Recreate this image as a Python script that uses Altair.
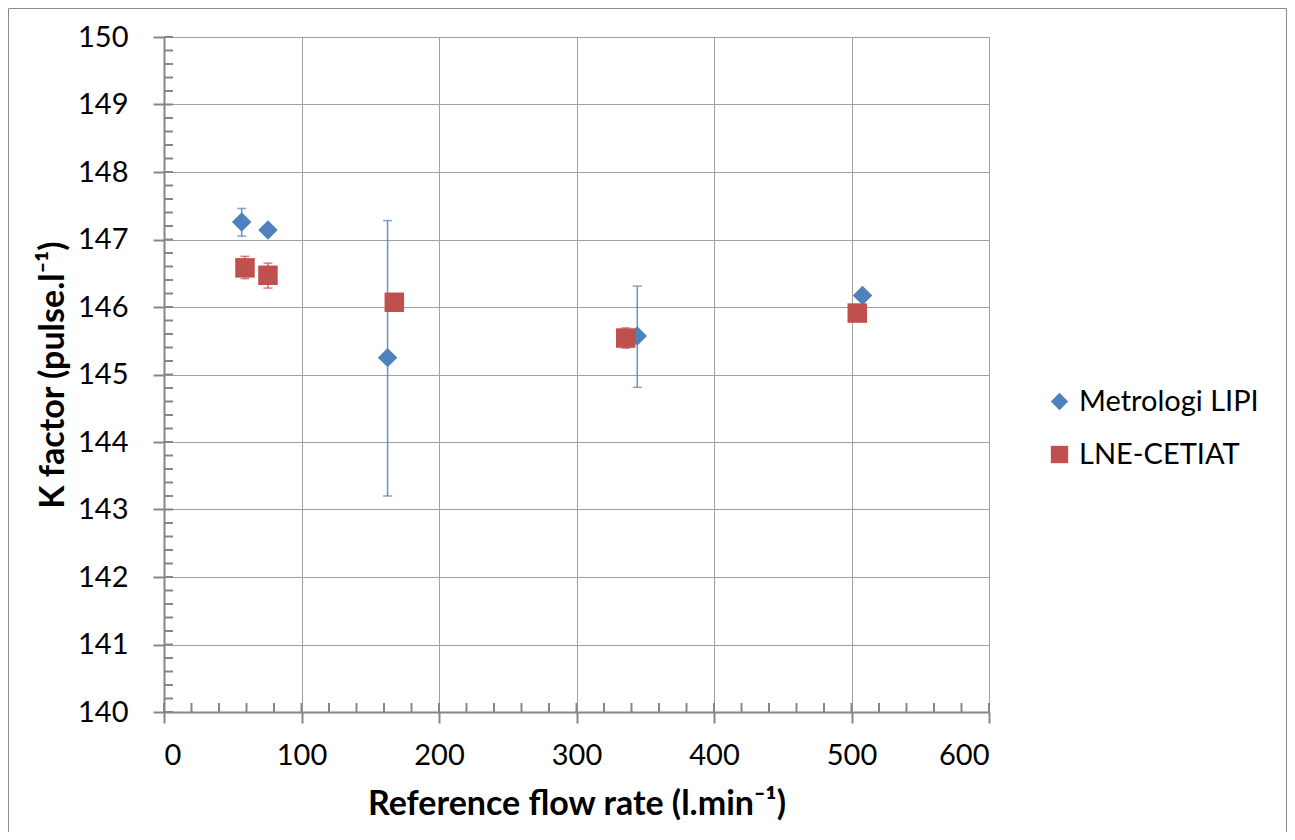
import altair as alt
import pandas as pd

# ---- data ----
series_names = ["Metrologi LIPI", "LNE-CETIAT"]
series_colors = ["#4F81BD", "#C0504D"]
series_shapes = ["diamond", "square"]

lipi_flow = [56.5, 75.6, 162.6, 344.2, 508.0]
lipi_k = [147.26, 147.14, 145.25, 145.57, 146.17]
lipi_lo = [147.05, 147.09, 143.20, 144.81, 146.12]
lipi_hi = [147.46, 147.19, 147.28, 146.31, 146.22]

lne_flow = [58.9, 75.6, 167.5, 335.8, 504.2]
lne_k = [146.58, 146.47, 146.07, 145.54, 145.91]
lne_lo = [146.42, 146.28, 145.97, 145.39, 145.81]
lne_hi = [146.75, 146.65, 146.17, 145.69, 146.01]

x_ticks = [0, 100, 200, 300, 400, 500, 600]
y_ticks = [140, 141, 142, 143, 144, 145, 146, 147, 148, 149, 150]

W, H = 825, 675
FONT = "Lato"
AXIS_GREY = "#868686"

rows = []
for n, fl, k, lo, hi in [(series_names[0], lipi_flow, lipi_k, lipi_lo, lipi_hi),
                         (series_names[1], lne_flow, lne_k, lne_lo, lne_hi)]:
    for a, b, c, d in zip(fl, k, lo, hi):
        rows.append({"series": n, "flow": a, "k": b, "lo": c, "hi": d})
df = pd.DataFrame(rows)

xs = alt.Scale(domain=[0, 600], nice=False, zero=False)
ys = alt.Scale(domain=[140, 150], nice=False, zero=False)

x_enc = alt.X("flow:Q", scale=xs, axis=alt.Axis(
    values=x_ticks, format="d", title="Reference flow rate (l.min⁻¹)", grid=True))
y_enc = alt.Y("k:Q", scale=ys, axis=alt.Axis(
    values=y_ticks, format="d", title="K factor (pulse.l⁻¹)", grid=True))

# inner (minor + inner half of major) ticks
ytick_df = pd.DataFrame({"v": [140 + i * 0.2 for i in range(51)]})
xtick_df = pd.DataFrame({"v": [i * 20 for i in range(31)]})

yticks_in = alt.Chart(ytick_df).mark_rule(color=AXIS_GREY, strokeWidth=2).encode(
    y=alt.Y("v:Q", scale=ys), x=alt.value(0), x2=alt.value(9))
xticks_in = alt.Chart(xtick_df).mark_rule(color=AXIS_GREY, strokeWidth=2).encode(
    x=alt.X("v:Q", scale=xs), y=alt.value(H - 9), y2=alt.value(H))

legend_kw = dict(title=None, orient="none", legendX=881, legendY=350,
                 labelFontSize=29, labelFont=FONT, labelColor="black", labelLimit=0,
                 symbolSize=300, rowPadding=23, labelOffset=5,
                 padding=0, symbolStrokeWidth=0)

layers = [yticks_in, xticks_in]
for name, col in zip(series_names, series_colors):
    sub = alt.Chart(df).transform_filter(alt.datum.series == name)
    layers.append(sub.mark_rule(color=col, strokeWidth=1.5, opacity=0.85).encode(
        x=x_enc, y=alt.Y("lo:Q", scale=ys), y2="hi:Q"))
    layers.append(sub.mark_tick(color=col, orient="horizontal", size=9, thickness=1.5).encode(
        x=x_enc, y=alt.Y("lo:Q", scale=ys)))
    layers.append(sub.mark_tick(color=col, orient="horizontal", size=9, thickness=1.5).encode(
        x=x_enc, y=alt.Y("hi:Q", scale=ys)))
    layers.append(sub.mark_point(filled=True, opacity=1, size=380).encode(
        x=x_enc, y=y_enc,
        color=alt.Color("series:N", scale=alt.Scale(domain=series_names, range=series_colors),
                        legend=alt.Legend(**legend_kw)),
        shape=alt.Shape("series:N", scale=alt.Scale(domain=series_names, range=series_shapes),
                        legend=alt.Legend(**legend_kw))))

border = alt.Chart(pd.DataFrame({"a": [0]})).mark_rect(
    fillOpacity=0, stroke="#8C8C8C", strokeWidth=1).encode(
    x=alt.value(-155.5), x2=alt.value(1122.5), y=alt.value(-28.5), y2=alt.value(795.5))
layers.append(border)

chart = alt.layer(*layers).properties(
    width=W, height=H,
    autosize=alt.AutoSizeParams(type="none"),
    padding={"left": 156, "top": 29, "right": 298, "bottom": 120},
).configure_view(stroke=None).configure(background="white").configure_axis(
    labelFont=FONT, titleFont=FONT, labelFontSize=29, titleFontSize=34,
    labelColor="black", titleColor="black", titleFontWeight="bold",
    domainColor=AXIS_GREY, domainWidth=2, tickColor=AXIS_GREY, tickWidth=2, tickSize=11,
    gridColor="#A0A0A0", gridWidth=1,
).configure_axisY(labelPadding=25, titlePadding=7).configure_axisX(labelPadding=18, titlePadding=17)

chart.save("out.html", embed_options={"renderer": "svg", "actions": False})
